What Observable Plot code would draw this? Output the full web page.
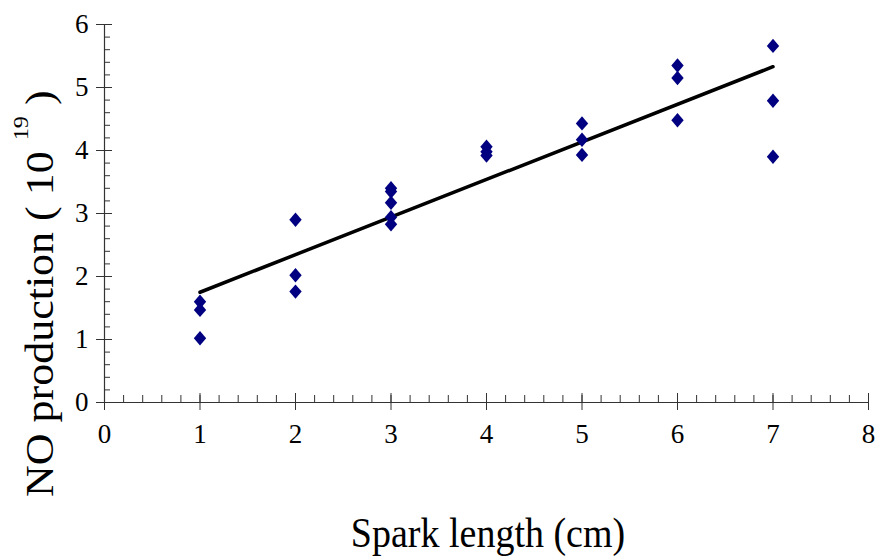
<!DOCTYPE html>
<html>
<head>
<meta charset="utf-8">
<script src="https://cdn.jsdelivr.net/npm/d3@7"></script>
<script src="https://cdn.jsdelivr.net/npm/@observablehq/plot@0.6"></script>
<style>
  html, body { margin: 0; padding: 0; background: #fff; }
</style>
</head>
<body>
<div id="chart"></div>
<script>
// Data
const sparkLength = [1, 1, 1, 2, 2, 2, 3, 3, 3, 3, 3, 4, 4, 4, 5, 5, 5, 6, 6, 6, 7, 7, 7];
const noProduction = [1.60, 1.47, 1.02, 2.90, 2.02, 1.76, 3.40, 3.35, 3.17, 2.94, 2.83,
                      4.06, 3.98, 3.92, 4.43, 4.17, 3.93, 5.35, 5.15, 4.48, 5.66, 4.79, 3.90];
// Trend line endpoints
const fitX = [1, 7];
const fitY = [1.75, 5.33];
// Tick labels
const xTicks = [0, 1, 2, 3, 4, 5, 6, 7, 8];
const yTicks = [0, 1, 2, 3, 4, 5, 6];
const xMinorTicks = d3.range(0, 8.001, 0.2);
const yMinorTicks = d3.range(0, 6.001, 0.2);
const xLabel = "Spark length (cm)";
const yLabelMain = "NO production ( 10 ";
const yLabelSup = "19";
const yLabelEnd = " )";

const points = sparkLength.map((x, i) => ({x, y: noProduction[i]}));
const fit = fitX.map((x, i) => ({x, y: fitY[i]}));

// slightly tall diamond symbol
const tallDiamond = {
  draw(context, size) {
    const h = Math.sqrt(size) * 0.78;
    const w = h * 0.86;
    context.moveTo(0, -h);
    context.lineTo(w, 0);
    context.lineTo(0, h);
    context.lineTo(-w, 0);
    context.closePath();
  }
};

const font = "Liberation Serif";
const axisColor = "#333";
const svg = Plot.plot({
  width: 878,
  height: 559,
  marginLeft: 104,
  marginRight: 10,
  marginTop: 24,
  marginBottom: 157,
  style: {fontFamily: font, fontSize: "27px", background: "#fff", color: "#000", overflow: "visible"},
  x: {domain: [0, 8], label: null},
  y: {domain: [0, 6], label: null},
  marks: [
    Plot.ruleY([0], {stroke: axisColor, strokeWidth: 1.2}),
    Plot.ruleX([0], {stroke: axisColor, strokeWidth: 1.2}),
    // x axis ticks
    Plot.axisX({ticks: xMinorTicks, tickSize: 7, dy: -7, tickFormat: () => "", stroke: axisColor}),
    Plot.axisX({ticks: xTicks, tickSize: 17, dy: -9, tickFormat: () => "", stroke: axisColor}),
    Plot.axisX({ticks: xTicks, tickSize: 0, tickPadding: 21, fill: "#000", fontSize: 27, tickFormat: d3.format("d")}),
    // y axis ticks
    Plot.axisY({ticks: yMinorTicks, tickSize: 6, dx: 6, tickFormat: () => "", stroke: axisColor}),
    Plot.axisY({ticks: yTicks, tickSize: 16, dx: 8, tickFormat: () => "", stroke: axisColor}),
    Plot.axisY({ticks: yTicks, tickSize: 0, tickPadding: 16, fill: "#000", fontSize: 27, tickFormat: d3.format("d")}),
    // trend line
    Plot.line(fit, {x: "x", y: "y", stroke: "#000", strokeWidth: 3.5}),
    // data points
    Plot.dot(points, {x: "x", y: "y", symbol: tallDiamond, r: 5.2, fill: "#000080", stroke: "none"})
  ]
});

const s = d3.select(svg);
// force serif font on all text (tick labels included)
s.attr("font-family", font);
s.selectAll("g").each(function() {
  if (this.hasAttribute("font-family")) this.setAttribute("font-family", font);
  if (this.hasAttribute("font-variant")) this.removeAttribute("font-variant");
});
s.selectAll("text").style("font-family", "'Liberation Serif', serif").style("font-variant", "normal");

// x axis title
s.append("text")
  .attr("transform", "translate(488,547) scale(1,1.12)")
  .attr("text-anchor", "middle")
  .style("font-family", "'Liberation Serif', serif")
  .attr("font-size", 38)
  .attr("fill", "#000")
  .text(xLabel);
// y axis title with superscript
const yt = s.append("text")
  .attr("transform", "translate(53,497) rotate(-90) scale(1.1,1)")
  .attr("text-anchor", "start")
  .style("font-family", "'Liberation Serif', serif")
  .attr("font-size", 40)
  .attr("fill", "#000");
yt.append("tspan").text(yLabelMain);
yt.append("tspan").attr("dy", -25).attr("font-size", 22).text(yLabelSup);
yt.append("tspan").attr("dy", 25).text(yLabelEnd);

document.getElementById("chart").append(svg);
</script>
</body>
</html>
